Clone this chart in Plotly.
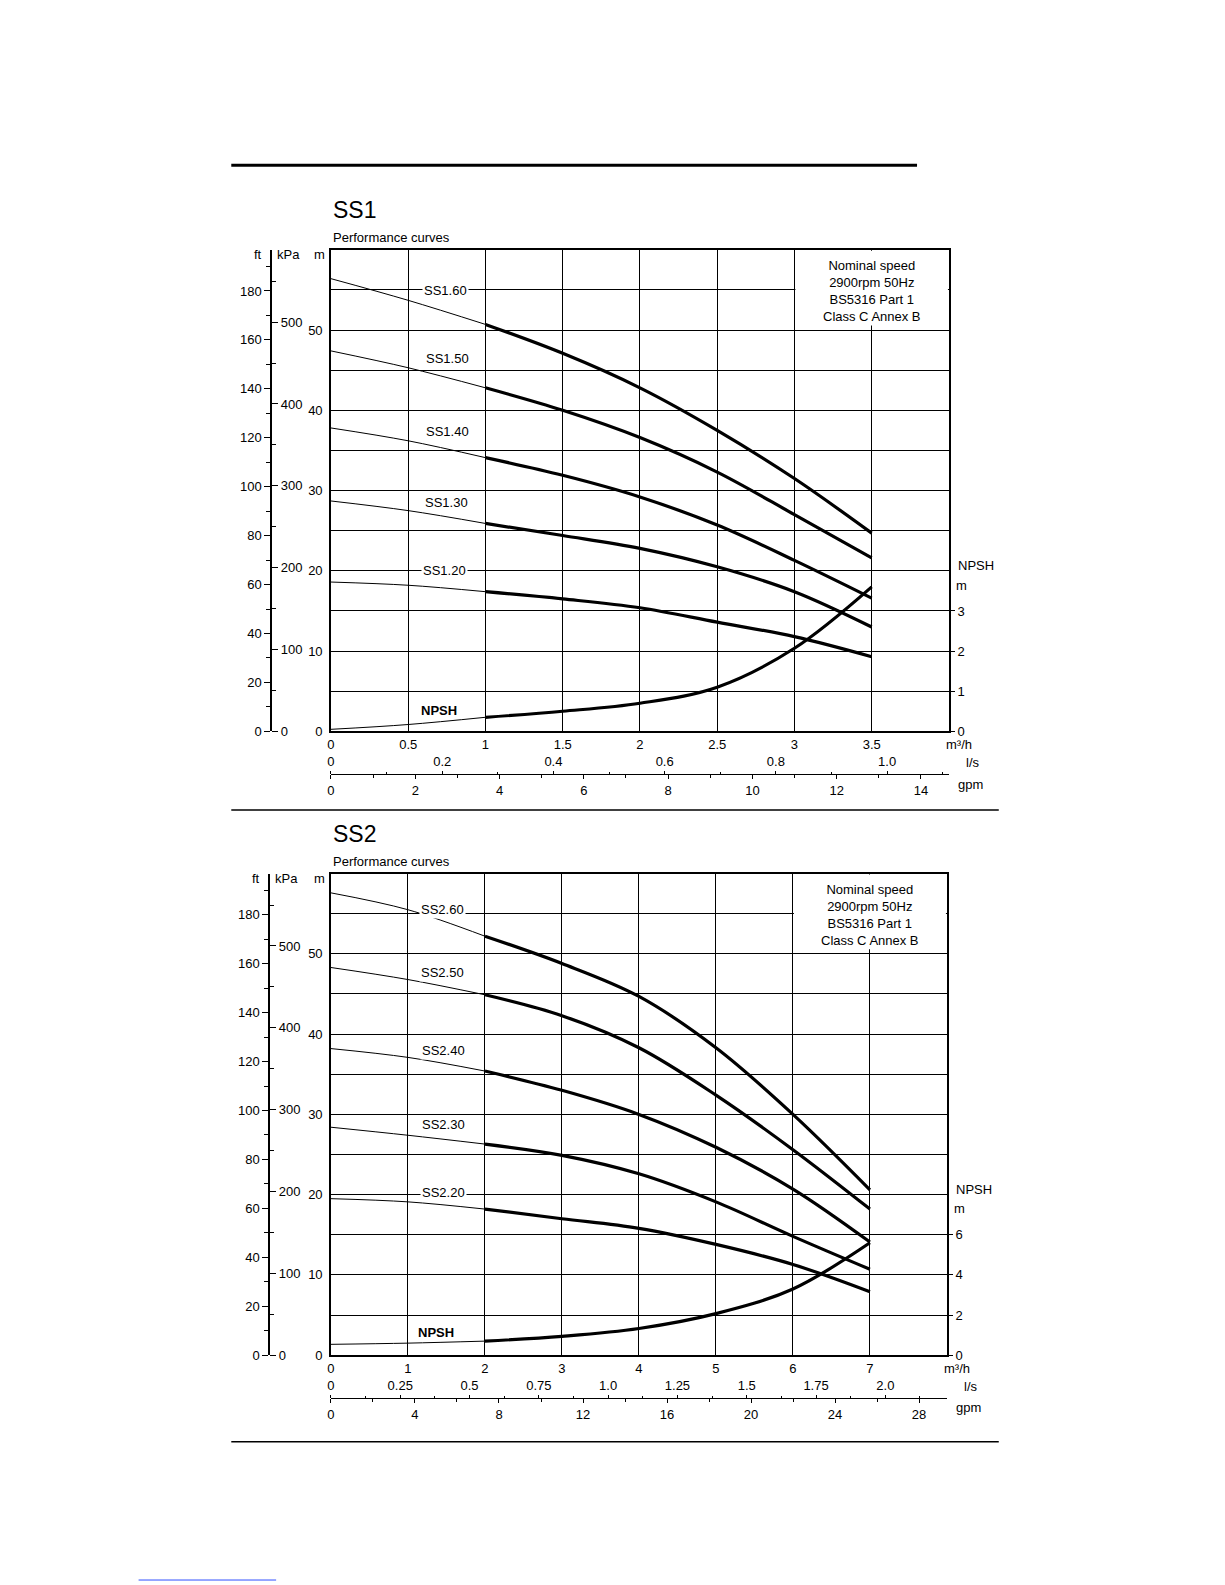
import plotly.graph_objects as go

W, H = 1225, 1585
FONT = "Liberation Sans, Arial, sans-serif"

# SS1 data, flow in m3/h, head in m
ss1_flow = [0, 0.5, 1, 1.5, 2, 2.5, 3, 3.5]
ss1_names = ["SS1.60", "SS1.50", "SS1.40", "SS1.30", "SS1.20"]
ss1_heads = [
    [56.4, 53.7, 50.7, 47.1, 42.8, 37.5, 31.5, 24.7],
    [47.4, 45.3, 42.8, 40.0, 36.6, 32.3, 27.0, 21.6],
    [37.8, 36.2, 34.1, 31.9, 29.2, 25.7, 21.3, 16.6],
    [28.7, 27.5, 25.9, 24.4, 22.8, 20.5, 17.4, 13.0],
    [18.6, 18.2, 17.4, 16.5, 15.4, 13.6, 11.8, 9.3],
]
ss1_npsh = [0.05, 0.17, 0.35, 0.5, 0.7, 1.1, 2.07, 3.6]

# SS2 data
ss2_flow = [0, 1, 2, 3, 4, 5, 6, 7]
ss2_names = ["SS2.60", "SS2.50", "SS2.40", "SS2.30", "SS2.20"]
ss2_heads = [
    [57.6, 55.5, 52.2, 48.8, 44.7, 38.3, 30.0, 20.6],
    [48.3, 46.8, 44.9, 42.3, 38.3, 32.4, 25.6, 18.2],
    [38.2, 37.1, 35.4, 33.0, 30.0, 25.9, 20.7, 14.1],
    [28.4, 27.4, 26.3, 24.9, 22.6, 19.1, 14.8, 10.7],
    [19.5, 19.1, 18.2, 17.0, 15.8, 13.8, 11.3, 7.9],
]
ss2_npsh = [0.54, 0.6, 0.7, 0.94, 1.33, 2.07, 3.3, 5.6]

box_text = "Nominal speed<br>2900rpm 50Hz<br>BS5316 Part 1<br>Class C Annex B"


def px(x):
    return x / W


def py(y):
    return 1 - y / H


fig = go.Figure()
layout = {}
annotations = []
shapes = []
tf = dict(family=FONT, size=13, color="black")


def note(x, y, text, font=tf, xanchor="center", yanchor="middle", **kw):
    annotations.append(dict(xref="paper", yref="paper", x=px(x), y=py(y), text=text,
                            showarrow=False, xanchor=xanchor, yanchor=yanchor, font=font, **kw))


def panel(n, title, flow, names, heads, npsh, xmax, npsh_per_m, npsh_ticks,
          ls_ticks, gpm_ticks, gpm_minor, ls_minor, x0, x1, ybot, ytop,
          label_pos, npsh_lab, title_y, leftx):
    k = 5 * (n - 1)
    xa, xb, xc = k + 1, k + 2, k + 3
    ya, yb, yc, yd = k + 1, k + 2, k + 3, k + 4
    xn = lambda i: "xaxis" if i == 1 else "xaxis%d" % i
    yn = lambda i: "yaxis" if i == 1 else "yaxis%d" % i
    xr = lambda i: "x" if i == 1 else "x%d" % i
    yr = lambda i: "y" if i == 1 else "y%d" % i
    step = flow[1] - flow[0]
    main_ticks = [i * step for i in range(int(round(xmax / step)))]
    layout[xn(xa)] = dict(domain=[px(x0), px(x1)], anchor=yr(ya), range=[0, xmax],
                          tickvals=main_ticks, ticktext=["%g" % v for v in main_ticks],
                          showgrid=True, gridcolor="black",
                          gridwidth=1, showline=True, linecolor="black", linewidth=1.5,
                          mirror=True, ticks="", tickfont=tf, zeroline=False)
    layout[yn(ya)] = dict(domain=[py(ybot), py(ytop)], anchor=xr(xa), range=[0, 60],
                          tickvals=[0, 10, 20, 30, 40, 50], showgrid=True, gridcolor="black",
                          gridwidth=1, minor=dict(dtick=5, showgrid=True, gridcolor="black"),
                          showline=True, linecolor="black", linewidth=1.5, mirror=True,
                          ticks="", tickfont=tf, zeroline=False, ticklabelstandoff=4)
    # NPSH
    layout[yn(yb)] = dict(overlaying=yr(ya), anchor=xr(xa), side="right",
                          range=[0, 60 / npsh_per_m], tickvals=npsh_ticks, ticks="outside",
                          ticklen=5, tickcolor="black", showgrid=False, tickfont=tf,
                          zeroline=False)
    # ft
    layout[yn(yc)] = dict(overlaying=yr(ya), anchor="free", position=px(leftx), side="left",
                          range=[0, 60 / 0.3048], tickvals=list(range(0, 181, 20)),
                          ticks="outside", ticklen=6, tickcolor="black",
                          minor=dict(dtick=10, ticks="outside", ticklen=4, tickcolor="black"),
                          showline=True, linecolor="black", linewidth=1.5, showgrid=False,
                          tickfont=tf, zeroline=False)
    # kPa
    layout[yn(yd)] = dict(overlaying=yr(ya), anchor="free", position=px(leftx), side="right",
                          range=[0, 60 * 9.80665], tickvals=list(range(0, 501, 100)),
                          ticks="outside", ticklen=6, tickcolor="black",
                          minor=dict(dtick=50, ticks="outside", ticklen=4, tickcolor="black"),
                          showgrid=False, tickfont=tf, zeroline=False)
    scale_y = ybot + 43
    # l/s
    layout[xn(xb)] = dict(overlaying=xr(xa), anchor="free", position=py(scale_y), side="top",
                          range=[0, xmax / 3.6], tickvals=ls_ticks,
                          ticktext=["0"] + [("%.1f" % v if v * 10 == int(v * 10) else "%g" % v) for v in ls_ticks[1:]],
                          ticks="outside", ticklen=3, tickcolor="black",
                          minor=dict(dtick=ls_minor, ticks="outside", ticklen=2, tickcolor="black"),
                          showline=True, linecolor="black", linewidth=1, showgrid=False,
                          tickfont=tf, zeroline=False)
    # gpm
    layout[xn(xc)] = dict(overlaying=xr(xa), anchor="free", position=py(scale_y), side="bottom",
                          range=[0, xmax / 0.2728], tickvals=gpm_ticks, ticks="outside",
                          ticklen=4, tickcolor="black",
                          minor=dict(dtick=gpm_minor, ticks="outside", ticklen=3, tickcolor="black"),
                          showgrid=False, tickfont=tf, zeroline=False)
    # dummy traces so overlay axes render
    for xi, yi in [(xb, yb), (xc, yc), (xa, yd)]:
        fig.add_trace(go.Scatter(x=[None], y=[None], xaxis=xr(xi), yaxis=yr(yi),
                                 showlegend=False, hoverinfo="skip"))
    for name, h in zip(names, heads):
        fig.add_trace(go.Scatter(x=flow[:3], y=h[:3], mode="lines", line=dict(color="black", width=1, shape="spline"),
                                 xaxis=xr(xa), yaxis=yr(ya), name=name, showlegend=False))
        fig.add_trace(go.Scatter(x=flow[2:], y=h[2:], mode="lines", line=dict(color="black", width=3.2, shape="spline"),
                                 xaxis=xr(xa), yaxis=yr(ya), name=name, showlegend=False))
    fig.add_trace(go.Scatter(x=flow[:3], y=npsh[:3], mode="lines", line=dict(color="black", width=1, shape="spline"),
                             xaxis=xr(xa), yaxis=yr(yb), name="NPSH", showlegend=False))
    fig.add_trace(go.Scatter(x=flow[2:], y=npsh[2:], mode="lines", line=dict(color="black", width=3.2, shape="spline"),
                             xaxis=xr(xa), yaxis=yr(yb), name="NPSH", showlegend=False))
    # text box top right
    bx0 = x0 + (x1 - x0) * 6 / 8
    shapes.append(dict(type="rect", xref="paper", yref="paper", x0=px(bx0 + 1), x1=px(x1 - 1),
                       y0=py(ytop + 76), y1=py(ytop + 1), fillcolor="white", line=dict(width=0),
                       layer="above"))
    note((bx0 + x1) / 2, ytop + 6, box_text, yanchor="top", align="center")
    for name, (lx, ly) in zip(names, label_pos):
        note(lx, ly, name, bgcolor="white", borderpad=1)
    note(npsh_lab[0], npsh_lab[1], "<b>NPSH</b>")
    for t, x, y in [("ft", leftx - 13, ytop + 5), ("kPa", leftx + 17, ytop + 5), ("m", 309, ytop + 5),
                    ("NPSH", x1 + 27, ybot - 167), ("m", x1 + 13, ybot - 147),
                    ("m³/h", x1 + 10, ybot + 13), ("l/s", x1 + 24, ybot + 31),
                    ("gpm", x1 + 22, ybot + 53)]:
        note(x, y, t)
    note(320, title_y, title, font=dict(family=FONT, size=23), xanchor="left")
    note(320, title_y + 28, "Performance curves", xanchor="left")


panel(1, "SS1", ss1_flow, ss1_names, ss1_heads, ss1_npsh, 4, 5, [0, 1, 2, 3],
      [0, 0.2, 0.4, 0.6, 0.8, 1.0], list(range(0, 15, 2)), 1, 0.1,
      320, 940, 727, 243,
      [(435, 284), (437, 352), (437, 426), (436, 497), (434, 565)], (428, 706), 203, 260)
panel(2, "SS2", ss2_flow, ss2_names, ss2_heads, ss2_npsh, 8, 2.5, [0, 2, 4, 6],
      [0, 0.25, 0.5, 0.75, 1.0, 1.25, 1.5, 1.75, 2.0], list(range(0, 29, 4)), 2, 0.125,
      320, 938, 1354, 870,
      [(432, 906), (432, 969), (433, 1048), (433, 1122), (433, 1191)], (425, 1331), 830, 258)

for y, x0, x1, w in [(158, 220, 908, 3), (806, 220, 990, 1.5), (1441, 220, 990, 1.5)]:
    shapes.append(dict(type="line", xref="paper", yref="paper", x0=px(x0), x1=px(x1),
                       y0=py(y), y1=py(y), line=dict(color="black", width=w)))
shapes.append(dict(type="line", xref="paper", yref="paper", x0=px(127), x1=px(265),
                   y0=py(1580), y1=py(1580), line=dict(color="#3050ff", width=1)))

fig.update_layout(width=W, height=H, margin=dict(l=0, r=0, t=0, b=0),
                  paper_bgcolor="white", plot_bgcolor="white", showlegend=False,
                  font=dict(family=FONT, size=13, color="black"),
                  annotations=annotations, shapes=shapes, **layout)
fig.write_html("out.html")
